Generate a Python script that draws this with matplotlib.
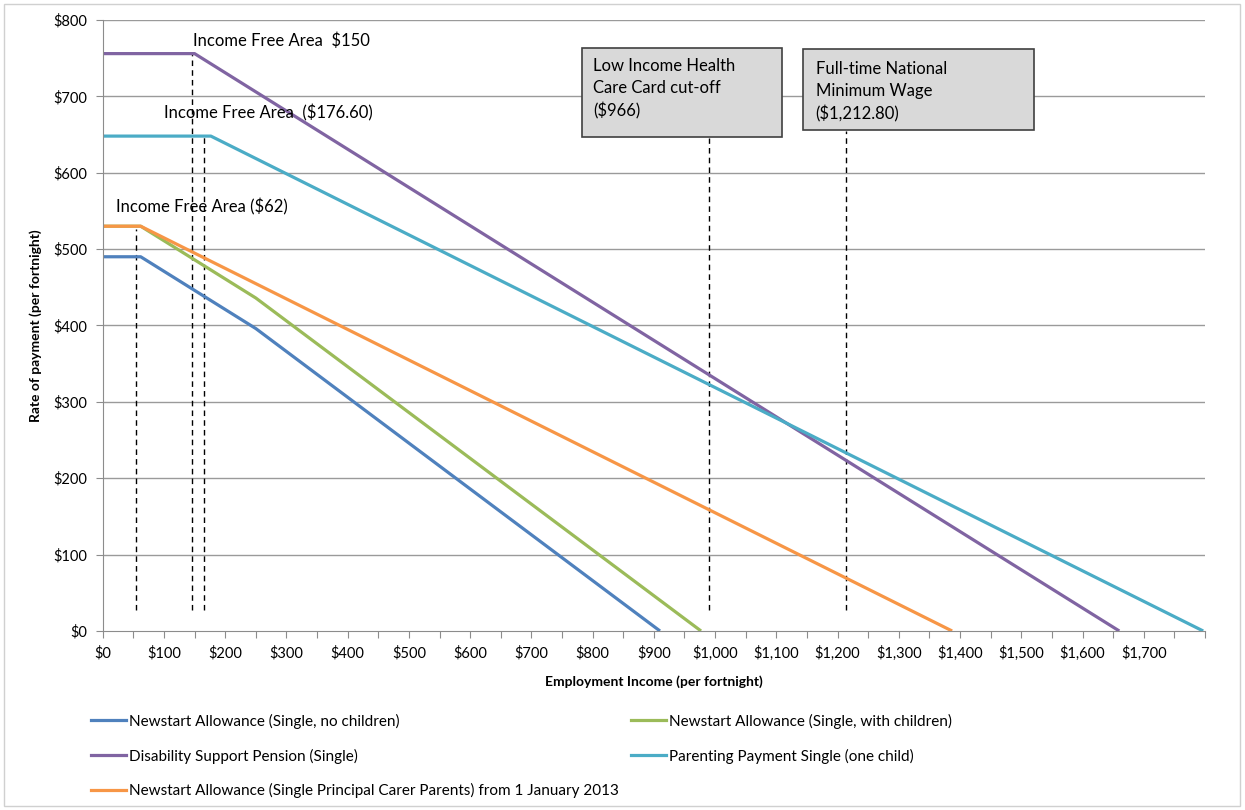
import matplotlib.pyplot as plt
from matplotlib.lines import Line2D
from matplotlib.patches import Rectangle

plt.rcParams['font.family'] = ['Lato', 'DejaVu Sans']

# breakpoints of each payment (employment income, rate of payment)
ns_single_x = [0, 62, 250, 910]
ns_single_y = [490, 490, 396, 0]
ns_child_x = [0, 62, 250, 977]
ns_child_y = [530, 530, 436, 0]
dsp_x = [0, 150, 1660]
dsp_y = [756, 756, 0]
pps_x = [0, 176.6, 1797]
pps_y = [648, 648, 0]
ns_carer_x = [0, 62, 1387]
ns_carer_y = [530, 530, 0]

labels = ['Newstart Allowance (Single, no children)',
          'Newstart Allowance (Single, with children)',
          'Disability Support Pension (Single)',
          'Parenting Payment Single (one child)',
          'Newstart Allowance (Single Principal Carer Parents) from 1 January 2013']
colors = ['#4F81BD', '#9BBB59', '#8064A2', '#4BACC6', '#F79646']

# dashed markers: x position, top of line
cutoff_x = [55, 145, 166, 990, 1213]
cutoff_top = [527, 757, 649, 646, 655]

fig = plt.figure(figsize=(12.45, 8.1), dpi=100)
fig.patches.append(Rectangle((0.003, 0.005), 0.993, 0.99, transform=fig.transFigure,
                             fill=False, edgecolor='#d0d0d0', linewidth=1))
ax = fig.add_axes([0.0825, 0.221, 0.8854, 0.7543])

for y in range(100, 900, 100):
    ax.axhline(y, color='#9a9a9a', linewidth=1, zorder=0)

for xv, top in zip(cutoff_x, cutoff_top):
    ax.plot([xv, xv], [27, top], color='black', linestyle=(0, (4, 3)), linewidth=1)

series = [(ns_single_x, ns_single_y), (ns_child_x, ns_child_y), (dsp_x, dsp_y),
          (pps_x, pps_y), (ns_carer_x, ns_carer_y)]
for (xs, ys), c in zip(series, colors):
    ax.plot(xs, ys, color=c, linewidth=2.3, solid_capstyle='butt')

ax.set_xlim(0, 1800)
ax.set_ylim(0, 800)
ax.set_xticks(range(0, 1801, 50))
ax.set_xticklabels(['${:,}'.format(v) if v % 100 == 0 and v < 1800 else '' for v in range(0, 1801, 50)])
ax.set_yticks(range(0, 801, 100))
ax.set_yticklabels(['${}'.format(v) for v in range(0, 801, 100)])
ax.tick_params(axis='both', labelsize=10.5, length=5, color='#8c8c8c', pad=6)
for s in ['top', 'right']:
    ax.spines[s].set_visible(False)
for s in ['left', 'bottom']:
    ax.spines[s].set_color('#8c8c8c')

ax.set_xlabel('Employment Income (per fortnight)', fontsize=10, fontweight='bold', labelpad=10)
ax.set_ylabel('Rate of payment (per fortnight)', fontsize=10, fontweight='bold', labelpad=8)

ax.text(148, 773, 'Income Free Area  $150', fontsize=12, va='center')
ax.text(100, 678, 'Income Free Area  ($176.60)', fontsize=12, va='center')
ax.text(22, 555, 'Income Free Area ($62)', fontsize=12, va='center')

ax.add_patch(Rectangle((782, 647), 328, 116, facecolor='#d9d9d9', edgecolor='#404040', linewidth=1.2, zorder=3))
ax.text(801, 750, 'Low Income Health\nCare Card cut-off\n($966)', fontsize=12, va='top',
        linespacing=1.45, zorder=4)
ax.add_patch(Rectangle((1144, 656), 376, 106, facecolor='#d9d9d9', edgecolor='#404040', linewidth=1.2, zorder=3))
ax.text(1164, 746, 'Full-time National\nMinimum Wage\n($1,212.80)', fontsize=12, va='top',
        linespacing=1.45, zorder=4)

handles = [Line2D([], [], color=c, linewidth=2.3) for c in colors]
leg1 = fig.legend([handles[0], handles[2], handles[4]], [labels[0], labels[2], labels[4]],
                  loc='upper left', bbox_to_anchor=(0.062, 0.136), frameon=False,
                  fontsize=11, handlelength=2.3, handletextpad=0.2, labelspacing=1.3)
leg2 = fig.legend([handles[1], handles[3]], [labels[1], labels[3]],
                  loc='upper left', bbox_to_anchor=(0.496, 0.136), frameon=False,
                  fontsize=11, handlelength=2.3, handletextpad=0.2, labelspacing=1.3)

fig.savefig('out.png', dpi=100)
